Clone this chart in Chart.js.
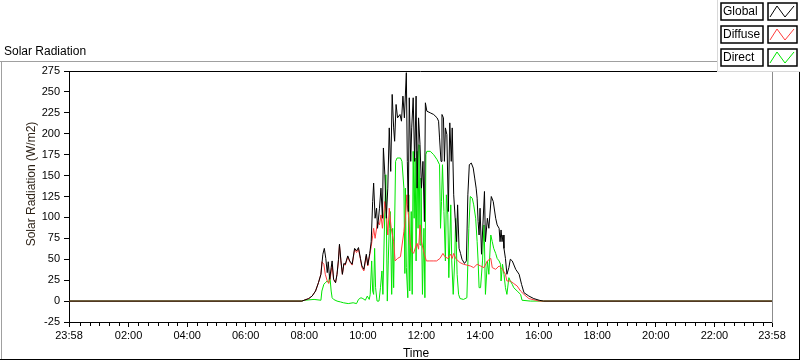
<!DOCTYPE html>
<html>
<head>
<meta charset="utf-8">
<script src="https://cdn.jsdelivr.net/npm/chart.js@4.4.0/dist/chart.umd.min.js"></script>
<style>
  html, body { margin: 0; padding: 0; background: #ffffff; }
  #wrap { width: 800px; height: 361px; position: relative; }
</style>
</head>
<body>
<div id="wrap"><canvas id="c" width="800" height="361"></canvas></div>
<script>
// ---- data (time in minutes of day, values in W/m2) ----
const chartTitle = "Solar Radiation";
const yAxisTitle = "Solar Radiation (W/m2)";
const xAxisTitle = "Time";
const seriesNames = ["Global", "Diffuse", "Direct"];
const seriesColors = ["#000000", "#ff3c3c", "#00e600"];

const xTickMinutes = [-2, 120, 240, 360, 480, 600, 720, 840, 960, 1080, 1200, 1320, 1438];
const yTickMin = -25, yTickMax = 275, yTickStep = 25;

const globalTimes = [-2,475,489,496,503,509,514,518,521,524,527,529,532,535,537,540,544,547,550,552,555,558,561,564,569,573,578,583,587,591,595,598,602,607,610,614,617,620,622,625,628,630,634,637,640,642,645,648,651,654,657,660,663,665,668,671,676,679,682,685,689,691,693,695,698,700,703,706,709,711,714,717,720,723,726,728,731,738,745,752,755,757,760,762,765,767,769,772,775,778,781,783,786,789,792,794,797,800,803,808,812,815,818,822,826,829,832,834,836,838,840,843,849,851,855,858,863,867,872,875,879,881,883,885,887,889,892,895,899,902,906,913,920,925,930,940,950,961,970,1438];
const globalValues = [0,0,3,6,12,22,32,56,63,51,34,47,26,40,48,26,22,32,50,68,48,32,45,44,54,48,44,63,60,64,51,42,38,56,43,57,71,119,141,99,111,87,111,135,99,183,151,99,135,207,155,247,207,191,235,219,223,215,245,219,273,167,107,243,167,207,243,167,245,135,219,187,135,167,95,237,227,225,223,219,215,195,167,223,219,167,207,199,107,213,167,207,127,99,71,115,63,57,50,45,48,127,163,165,159,147,135,123,95,79,111,56,131,71,99,87,125,119,99,91,87,71,85,71,79,63,51,32,40,50,48,38,32,20,10,6,3,1,0,0];

const diffuseTimes = [-2,475,489,496,503,509,514,516,520,523,527,530,533,537,540,544,547,550,552,555,558,561,564,569,573,578,583,587,591,595,598,602,607,610,614,617,620,622,625,630,634,637,640,645,648,651,654,658,663,666,671,677,684,687,690,691,694,697,701,704,707,711,714,717,720,723,726,730,737,744,751,758,764,768,774,780,783,786,790,795,799,806,813,820,827,834,841,848,855,862,865,872,879,886,892,895,902,909,916,923,930,940,954,961,1438];
const diffuseValues = [0,0,3,6,12,22,32,47,44,32,24,21,27,43,26,22,32,48,67,48,32,44,43,53,47,43,62,58,62,50,40,36,54,42,55,65,78,87,75,95,91,103,87,119,107,79,111,87,71,48,51,53,83,99,127,115,99,67,59,57,63,69,62,91,71,63,56,48,48,48,48,51,57,53,51,56,51,57,51,48,46,44,43,42,40,44,42,40,48,51,40,38,42,38,32,24,24,21,18,12,8,3,1,0,0];

const directTimes = [-2,475,480,500,514,516,520,523,527,530,532,535,537,540,547,554,560,570,580,587,591,596,600,605,609,613,615,618,620,622,624,626,629,633,636,639,641,645,647,650,652,654,656,659,661,663,667,670,677,680,684,686,687,689,692,694,696,699,701,703,705,707,709,711,713,715,717,719,722,725,727,729,731,738,745,752,757,759,761,763,766,769,771,774,776,780,782,785,788,790,793,796,799,806,813,817,820,824,827,831,834,836,838,841,845,848,849,851,855,858,862,865,868,872,875,879,882,883,886,889,892,895,899,902,906,909,916,923,926,943,1438];
const directValues = [0,0,1,2,1,12,20,22,24,22,32,12,4,2,0,-1,-2,-3,-2,-3,2,4,3,1,6,2,8,48,12,8,63,16,0,0,16,36,8,111,151,0,48,87,107,8,87,16,167,171,171,167,135,33,135,40,4,127,12,107,8,179,99,171,48,179,87,187,67,147,8,87,4,175,179,179,175,169,163,87,119,163,107,48,127,103,28,115,48,8,48,99,32,8,3,2,4,87,125,123,115,99,71,48,16,16,48,91,71,8,48,32,79,71,63,57,51,48,44,24,44,32,16,8,28,24,20,16,12,8,1,0,0];

// ---- helpers ----
function toPoints(times, values) { return times.map((t, i) => ({ x: t, y: values[i] })); }
function fmtTime(m) {
  let v = ((Math.round(m) % 1440) + 1440) % 1440;
  const h = Math.floor(v / 60), mm = v % 60;
  return String(h).padStart(2, '0') + ':' + String(mm).padStart(2, '0');
}
const FONT = "'Liberation Sans', Arial, sans-serif";

const framePlugin = {
  id: 'frame',
  afterDraw(chart) {
    const ctx = chart.ctx;
    const a = chart.chartArea;
    const xs = chart.scales.x;
    ctx.save();
    // outer sunken frame
    ctx.lineWidth = 1;
    ctx.strokeStyle = '#a0a0a0';
    ctx.beginPath();
    ctx.moveTo(0, 61.5); ctx.lineTo(718, 61.5);
    ctx.moveTo(1.5, 61); ctx.lineTo(1.5, 360);
    ctx.stroke();
    ctx.strokeStyle = '#000000';
    ctx.beginPath();
    ctx.moveTo(0, 359.5); ctx.lineTo(800, 359.5);
    ctx.moveTo(799.5, 72); ctx.lineTo(799.5, 360);
    ctx.stroke();
    // plot frame
    ctx.strokeStyle = '#000000';
    ctx.beginPath();
    ctx.moveTo(a.left, a.top + 0.5); ctx.lineTo(a.right, a.top + 0.5);
    ctx.stroke();
    ctx.strokeStyle = '#000000';
    ctx.beginPath();
    ctx.moveTo(a.left, a.bottom + 0.5); ctx.lineTo(a.right, a.bottom + 0.5);
    ctx.stroke();
    ctx.strokeStyle = '#8c8c8c';
    ctx.beginPath();
    ctx.moveTo(a.right + 0.5, a.top); ctx.lineTo(a.right + 0.5, a.bottom + 1);
    ctx.stroke();
    // minor x ticks every 20 minutes
    ctx.strokeStyle = '#000000';
    ctx.beginPath();
    for (let m = 20; m < 1438; m += 20) {
      if (m % 120 === 0) continue;
      const px = Math.round(xs.getPixelForValue(m)) + 0.5;
      ctx.moveTo(px, a.bottom + 1); ctx.lineTo(px, a.bottom + 4);
    }
    ctx.stroke();
    // titles
    ctx.fillStyle = '#000000';
    ctx.font = '12px ' + FONT;
    ctx.textAlign = 'left';
    ctx.textBaseline = 'alphabetic';
    ctx.fillText(chartTitle, 4, 54.5);
    ctx.textAlign = 'center';
    ctx.fillText(xAxisTitle, 416, 357);
    ctx.save();
    ctx.translate(35, 184);
    ctx.rotate(-Math.PI / 2);
    ctx.fillStyle = '#2a1f14';
    ctx.fillText(yAxisTitle, 0, 0);
    ctx.restore();
    // legend panel
    ctx.fillStyle = '#ffffff';
    ctx.fillRect(717, 0, 83, 72);
    ctx.strokeStyle = '#d8d8d8';
    ctx.beginPath();
    ctx.moveTo(717.5, 0); ctx.lineTo(717.5, 71.5); ctx.lineTo(800, 71.5);
    ctx.stroke();
    const rows = [3, 26, 49];
    seriesNames.forEach((name, i) => {
      const y0 = rows[i];
      // text box
      ctx.fillStyle = '#ffffff';
      ctx.fillRect(721, y0, 42, 17);
      ctx.strokeStyle = '#000000';
      ctx.lineWidth = 1.5;
      ctx.strokeRect(721, y0, 42, 17);
      ctx.fillStyle = '#000000';
      ctx.font = '12px ' + FONT;
      ctx.textAlign = 'left';
      ctx.textBaseline = 'middle';
      ctx.fillText(name, 723, y0 + 9);
      // icon box
      ctx.strokeRect(768, y0, 29, 17);
      ctx.lineWidth = 1;
      ctx.strokeStyle = seriesColors[i];
      ctx.beginPath();
      ctx.moveTo(770, y0 + 14);
      ctx.lineTo(777, y0 + 3);
      ctx.lineTo(785, y0 + 14);
      ctx.lineTo(794, y0 + 3);
      ctx.stroke();
    });
    ctx.restore();
  }
};

const ds = (label, times, values, color, order) => ({
  label, data: toPoints(times, values), borderColor: color, backgroundColor: color,
  borderWidth: 1, pointRadius: 0, tension: 0, fill: false, order
});

new Chart(document.getElementById('c'), {
  type: 'line',
  data: {
    datasets: [
      ds(seriesNames[0], globalTimes, globalValues, seriesColors[0], 1),
      ds(seriesNames[1], diffuseTimes, diffuseValues, seriesColors[1], 2),
      ds(seriesNames[2], directTimes, directValues, seriesColors[2], 3)
    ]
  },
  options: {
    responsive: false,
    animation: false,
    devicePixelRatio: 1,
    layout: { padding: { left: 0, top: 71, right: 28, bottom: 0 } },
    plugins: { legend: { display: false }, tooltip: { enabled: false }, title: { display: false } },
    scales: {
      x: {
        type: 'linear',
        min: -2, max: 1438,
        afterBuildTicks: (s) => { s.ticks = xTickMinutes.map(v => ({ value: v })); },
        afterFit: (s) => { s.height = 39; },
        ticks: {
          autoSkip: false, maxRotation: 0, minRotation: 0, padding: 2,
          color: '#000000', font: { family: FONT, size: 11 },
          callback: (v) => fmtTime(v)
        },
        grid: { drawOnChartArea: false, drawTicks: true, tickLength: 5, tickColor: '#000000', tickWidth: 1 },
        border: { display: false }
      },
      y: {
        min: yTickMin, max: yTickMax,
        afterFit: (s) => { s.width = 69; },
        ticks: { stepSize: yTickStep, padding: 4, color: '#000000', font: { family: FONT, size: 11 } },
        grid: { drawOnChartArea: false, drawTicks: true, tickLength: 5, tickColor: '#000000' },
        border: { display: true, color: '#000000', width: 1 }
      }
    }
  },
  plugins: [framePlugin]
});
</script>
</body>
</html>
